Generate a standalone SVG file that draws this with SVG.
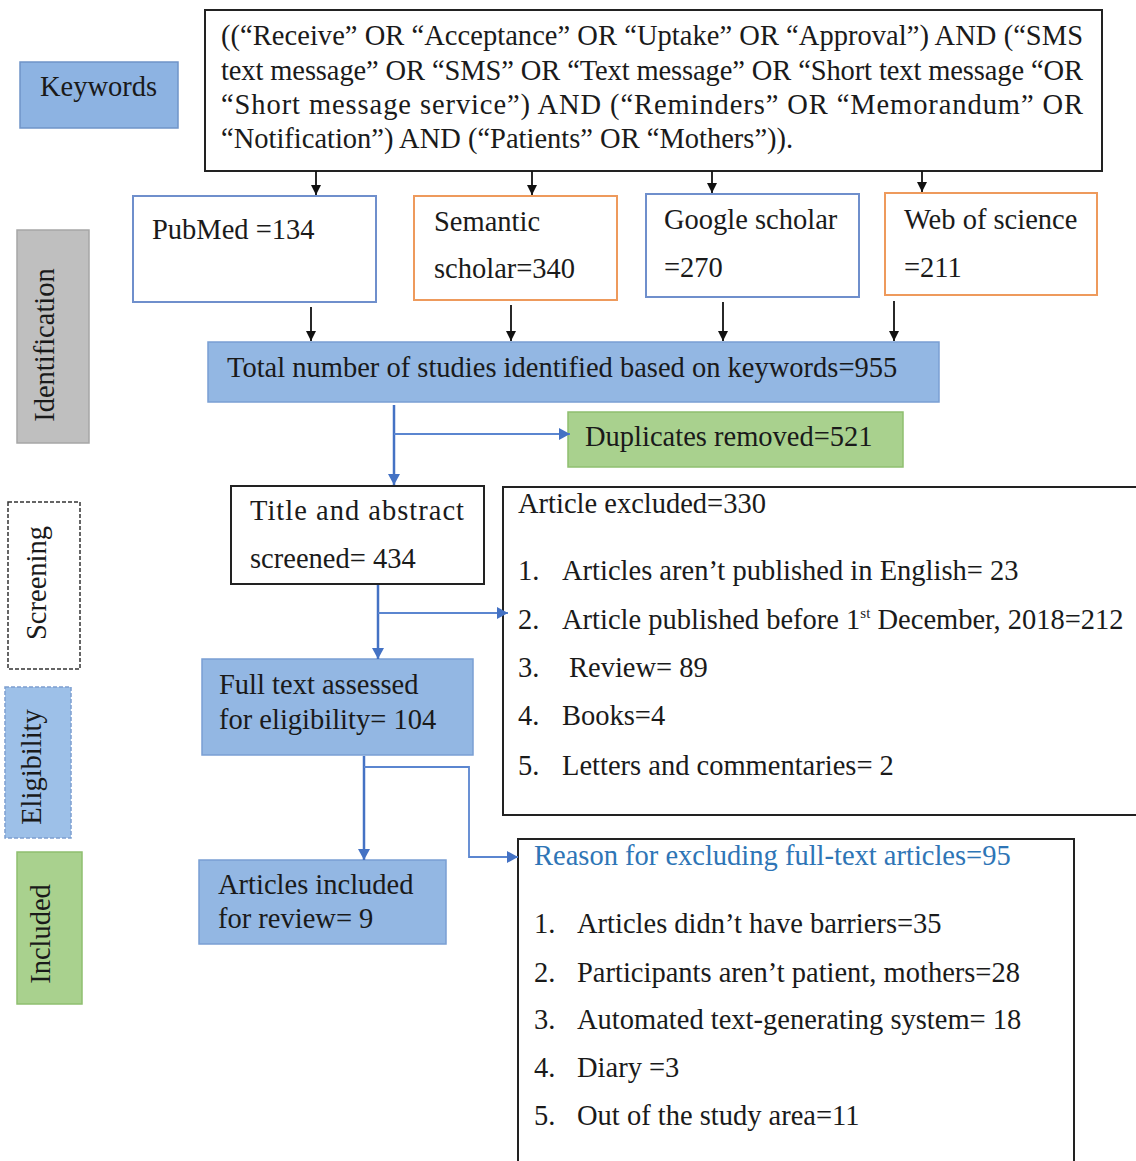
<svg xmlns="http://www.w3.org/2000/svg" width="1136" height="1161" viewBox="0 0 1136 1161">
<defs>
<style>
.t{font-family:"Liberation Serif","Times New Roman",serif;font-size:28.5px;fill:#1a1a1a}
.tb{font-family:"Liberation Serif","Times New Roman",serif;font-size:28.5px;fill:#2e75b6}
.wbox{fill:#ffffff;stroke:#222;stroke-width:2}
.bluebox{fill:#93b7e3;stroke:#7a9fd3;stroke-width:1.5}
.srcblue{fill:#ffffff;stroke:#6f8fcc;stroke-width:2}
.srcorange{fill:#ffffff;stroke:#ee9a5c;stroke-width:2}
.green{fill:#a9d18e;stroke:#8fbf6f;stroke-width:1.5}
.blk{stroke:#111;stroke-width:1.8;fill:none}
.blu{stroke:#4472c4;stroke-width:2.5;fill:none}
.blu2{stroke:#5b86d0;stroke-width:1.8;fill:none}
</style>
<marker id="ak" markerUnits="userSpaceOnUse" markerWidth="12" markerHeight="12" refX="10" refY="5" orient="auto">
<path d="M0,0 L10,5 L0,10 z" fill="#111"/>
</marker>
<marker id="ab" markerUnits="userSpaceOnUse" markerWidth="14" markerHeight="14" refX="11" refY="6" orient="auto">
<path d="M0,0 L11,6 L0,12 z" fill="#4472c4"/>
</marker>
</defs>

<!-- side labels -->
<g id="lbl-keywords">
<rect x="20" y="62" width="158" height="66" fill="#8db3e2" stroke="#6f94c8" stroke-width="1.5"/>
<text class="t" x="40" y="96">Keywords</text>
</g>
<g id="lbl-identification">
<rect x="17" y="230" width="72" height="213" fill="#bfbfbf" stroke="#a6a6a6" stroke-width="1.5"/>
<text class="t" transform="translate(54,345) rotate(-90)" text-anchor="middle">Identification</text>
</g>
<g id="lbl-screening">
<rect x="8" y="502" width="72" height="167" fill="#ffffff" stroke="#333" stroke-width="1.5" stroke-dasharray="4,2"/>
<text class="t" transform="translate(46,583) rotate(-90)" text-anchor="middle">Screening</text>
</g>
<g id="lbl-eligibility">
<rect x="5" y="687" width="66" height="151" fill="#9dc0e8" stroke="#7d9fcf" stroke-width="1.5" stroke-dasharray="4,2"/>
<text class="t" transform="translate(41,767) rotate(-90)" text-anchor="middle">Eligibility</text>
</g>
<g id="lbl-included">
<rect x="17" y="852" width="65" height="152" fill="#a9d18e" stroke="#8fbf6f" stroke-width="1.5"/>
<text class="t" transform="translate(50,934) rotate(-90)" text-anchor="middle">Included</text>
</g>

<!-- query -->
<g id="query">
<rect class="wbox" x="205" y="10" width="897" height="161"/>
<text class="t" x="221" y="45" textLength="862" lengthAdjust="spacing">((“Receive” OR “Acceptance” OR “Uptake” OR “Approval”) AND (“SMS</text>
<text class="t" x="221" y="80" textLength="862" lengthAdjust="spacing">text message” OR “SMS” OR “Text message” OR “Short text message “OR</text>
<text class="t" x="221" y="114" textLength="862" lengthAdjust="spacing">“Short message service”) AND (“Reminders” OR “Memorandum” OR</text>
<text class="t" x="221" y="148">“Notification”) AND (“Patients” OR “Mothers”)).</text>
</g>

<!-- sources -->
<g id="pubmed">
<rect class="srcblue" x="133" y="196" width="243" height="106"/>
<text class="t" x="152" y="239">PubMed =134</text>
</g>
<g id="semantic">
<rect class="srcorange" x="414" y="196" width="203" height="104"/>
<text class="t" x="434" y="231">Semantic</text>
<text class="t" x="434" y="278">scholar=340</text>
</g>
<g id="google">
<rect class="srcblue" x="646" y="194" width="213" height="103"/>
<text class="t" x="664" y="229">Google scholar</text>
<text class="t" x="664" y="277">=270</text>
</g>
<g id="wos">
<rect class="srcorange" x="885" y="193" width="212" height="102"/>
<text class="t" x="904" y="229">Web of science</text>
<text class="t" x="904" y="277">=211</text>
</g>

<g id="total">
<rect class="bluebox" x="208" y="342" width="731" height="60"/>
<text class="t" x="227" y="377">Total number of studies identified based on keywords=955</text>
</g>
<g id="duplicates">
<rect class="green" x="568" y="412" width="335" height="55"/>
<text class="t" x="585" y="446">Duplicates removed=521</text>
</g>

<g id="title">
<rect class="wbox" x="231" y="486" width="253" height="98"/>
<text class="t" x="250" y="520" textLength="214" lengthAdjust="spacing">Title and abstract</text>
<text class="t" x="250" y="568">screened= 434</text>
</g>

<g id="excluded1">
<path d="M1140,487 L503,487 L503,815 L1140,815" fill="#ffffff" stroke="#222" stroke-width="2"/>
<text class="t" x="518" y="513">Article excluded=330</text>
<text class="t" x="518" y="580">1.</text><text class="t" x="562" y="580">Articles aren’t published in English= 23</text>
<text class="t" x="518" y="629">2.</text><text class="t" x="562" y="629">Article published before 1<tspan font-size="15" dy="-11">st</tspan><tspan dy="11"> December, 2018=212</tspan></text>
<text class="t" x="518" y="677">3.</text><text class="t" x="569" y="677">Review= 89</text>
<text class="t" x="518" y="725">4.</text><text class="t" x="562" y="725">Books=4</text>
<text class="t" x="518" y="775">5.</text><text class="t" x="562" y="775">Letters and commentaries= 2</text>
</g>

<g id="fulltext">
<rect class="bluebox" x="202" y="659" width="271" height="96"/>
<text class="t" x="219" y="694">Full text assessed</text>
<text class="t" x="219" y="729">for eligibility= 104</text>
</g>

<g id="includedbox">
<rect class="bluebox" x="199" y="860" width="247" height="84"/>
<text class="t" x="218" y="894">Articles included</text>
<text class="t" x="218" y="928">for review= 9</text>
</g>

<g id="excluded2">
<path d="M518,1165 L518,839 L1074,839 L1074,1165" fill="#ffffff" stroke="#222" stroke-width="2"/>
<text class="tb" x="534" y="865">Reason for excluding full-text articles=95</text>
<text class="t" x="534" y="933">1.</text><text class="t" x="577" y="933">Articles didn’t have barriers=35</text>
<text class="t" x="534" y="982">2.</text><text class="t" x="577" y="982">Participants aren’t patient, mothers=28</text>
<text class="t" x="534" y="1029">3.</text><text class="t" x="577" y="1029">Automated text-generating system= 18</text>
<text class="t" x="534" y="1077">4.</text><text class="t" x="577" y="1077">Diary =3</text>
<text class="t" x="534" y="1125">5.</text><text class="t" x="577" y="1125">Out of the study area=11</text>
</g>

<g id="connectors">
<line class="blk" x1="316" y1="171" x2="316" y2="195" marker-end="url(#ak)"/>
<line class="blk" x1="532" y1="171" x2="532" y2="195" marker-end="url(#ak)"/>
<line class="blk" x1="712" y1="171" x2="712" y2="193" marker-end="url(#ak)"/>
<line class="blk" x1="922" y1="171" x2="922" y2="192" marker-end="url(#ak)"/>
<line class="blk" x1="311" y1="307" x2="311" y2="341" marker-end="url(#ak)"/>
<line class="blk" x1="511" y1="305" x2="511" y2="341" marker-end="url(#ak)"/>
<line class="blk" x1="723" y1="302" x2="723" y2="341" marker-end="url(#ak)"/>
<line class="blk" x1="894" y1="301" x2="894" y2="341" marker-end="url(#ak)"/>
<line class="blu" x1="394" y1="405" x2="394" y2="485" marker-end="url(#ab)"/>
<line class="blu2" x1="394" y1="434" x2="570" y2="434" marker-end="url(#ab)"/>
<line class="blu" x1="378" y1="585" x2="378" y2="659" marker-end="url(#ab)"/>
<line class="blu2" x1="378" y1="613" x2="508" y2="613" marker-end="url(#ab)"/>
<line class="blu" x1="364" y1="756" x2="364" y2="860" marker-end="url(#ab)"/>
<polyline class="blu2" points="364,767 469,767 469,857 518,857" marker-end="url(#ab)"/>
</g>
</svg>
